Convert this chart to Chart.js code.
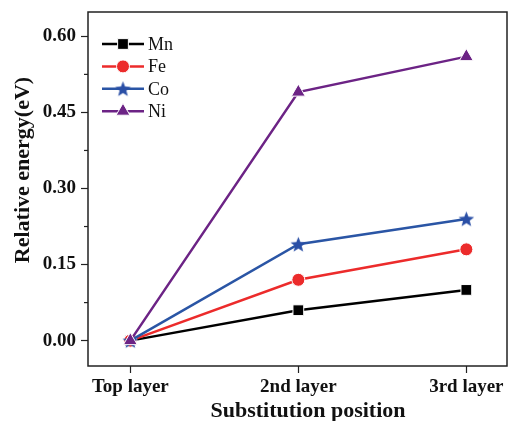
<!DOCTYPE html>
<html>
<head>
<meta charset="utf-8">
<script src="https://cdn.jsdelivr.net/npm/chart.js@4"></script>
<style>
  body { margin: 0; background: #fff; }
  #wrap { width: 510px; height: 421px; }
</style>
</head>
<body>
<div id="wrap"><canvas id="grafico" width="510" height="421"></canvas></div>
<script>
const CATEGORIAS = ['Top layer', '2nd layer', '3rd layer'];
const VALORES_MN = [0, 0.06, 0.10];
const VALORES_FE = [0, 0.12, 0.18];
const VALORES_CO = [0, 0.19, 0.24];
const VALORES_NI = [0, 0.49, 0.56];
const TICKS_Y = [0, 0.15, 0.30, 0.45, 0.60];
const TICKS_Y_MENORES = [0.075, 0.225, 0.375, 0.525];

const FUENTE = "'Liberation Serif', 'Times New Roman', serif";
const COLOR_MARCO = '#222';

// Estrella rellena (Chart.js solo trae la estrella de trazos)
function crearEstrella(color) {
  const c = document.createElement('canvas');
  c.width = 19; c.height = 19;
  const ctx = c.getContext('2d');
  ctx.beginPath();
  for (let i = 0; i < 10; i++) {
    const r = i % 2 === 0 ? 8.2 : 3.5;
    const a = -Math.PI / 2 + i * Math.PI / 5;
    ctx.lineTo(9.5 + r * Math.cos(a), 10.2 + r * Math.sin(a));
  }
  ctx.closePath();
  ctx.fillStyle = color;
  ctx.fill();
  return c;
}

const ESTILOS = {
  Mn: { color: '#000000', punto: 'rect', radio: 7.6 },
  Fe: { color: '#ec2b2b', punto: 'circle', radio: 6.5 },
  Co: { color: '#2a55a5', punto: crearEstrella('#2a4fa6'), radio: 8 },
  Ni: { color: '#6c2385', punto: 'triangle', radio: 8 }
};

function serie(nombre, valores, orden) {
  const e = ESTILOS[nombre];
  return {
    label: nombre,
    data: valores.map((v, i) => ({ x: i, y: v })),
    borderColor: e.color,
    backgroundColor: e.color,
    pointStyle: e.punto,
    pointRadius: e.radio,
    pointHoverRadius: e.radio,
    pointBorderColor: '#fff',
    pointBorderWidth: 1,
    borderWidth: 2.5,
    tension: 0,
    order: orden
  };
}

// sin relleno automatico de las escalas
function sinRelleno(s) {
  s.paddingLeft = 0; s.paddingRight = 0; s.paddingTop = 0; s.paddingBottom = 0;
}

// Marco completo, ticks menores, leyenda y titulos de ejes
const decoracion = {
  id: 'decoracion',
  afterDraw(chart) {
    const { ctx, chartArea: a, scales } = chart;
    ctx.save();
    ctx.strokeStyle = COLOR_MARCO;
    ctx.lineWidth = 1.5;
    ctx.strokeRect(a.left, a.top, a.right - a.left, a.bottom - a.top);

    ctx.lineWidth = 1.2;
    TICKS_Y_MENORES.forEach(v => {
      const y = scales.y.getPixelForValue(v);
      ctx.beginPath();
      ctx.moveTo(a.left - 4, y);
      ctx.lineTo(a.left, y);
      ctx.stroke();
    });

    // leyenda
    chart.data.datasets.forEach((ds, i) => {
      const y = 44 + i * 22.4;
      ctx.strokeStyle = ds.borderColor;
      ctx.lineWidth = 2.5;
      ctx.beginPath();
      ctx.moveTo(102, y);
      ctx.lineTo(144, y);
      ctx.stroke();
      ctx.fillStyle = ds.backgroundColor;
      ctx.strokeStyle = '#fff';
      ctx.lineWidth = 1;
      Chart.helpers.drawPoint(ctx, { pointStyle: ds.pointStyle, radius: ds.pointRadius, borderWidth: 1 }, 123, y);
      ctx.fillStyle = '#111';
      ctx.font = '18px ' + FUENTE;
      ctx.textBaseline = 'middle';
      ctx.textAlign = 'left';
      ctx.fillText(ds.label, 148, y + 1);
    });

    ctx.fillStyle = '#111';
    ctx.font = 'bold 22px ' + FUENTE;
    ctx.textAlign = 'center';
    ctx.textBaseline = 'middle';
    ctx.fillText('Substitution position', 308, 411);
    ctx.translate(23, 170);
    ctx.rotate(-Math.PI / 2);
    ctx.fillText('Relative energy(eV)', 0, 0);
    ctx.restore();
  }
};

new Chart(document.getElementById('grafico').getContext('2d'), {
  type: 'line',
  data: {
    datasets: [
      serie('Mn', VALORES_MN, 3),
      serie('Fe', VALORES_FE, 2),
      serie('Co', VALORES_CO, 1),
      serie('Ni', VALORES_NI, 0)
    ]
  },
  options: {
    responsive: false,
    animation: false,
    layout: { autoPadding: false, padding: { left: 0, top: 12, right: 3, bottom: 0 } },
    plugins: { legend: { display: false }, tooltip: { enabled: false } },
    scales: {
      x: {
        type: 'linear',
        min: -0.252,
        max: 2.242,
        afterBuildTicks: s => { s.ticks = CATEGORIAS.map((_, i) => ({ value: i })); },
        afterFit: s => { s.height = 55; sinRelleno(s); },
        border: { display: false },
        grid: { drawOnChartArea: false, drawTicks: true, tickLength: 7, tickWidth: 1.2, tickColor: COLOR_MARCO },
        ticks: {
          callback: v => CATEGORIAS[v],
          color: '#111',
          padding: 3,
          maxRotation: 0,
          font: { family: FUENTE, size: 19, weight: 'bold' }
        }
      },
      y: {
        min: -0.05,
        max: 0.648,
        afterBuildTicks: s => { s.ticks = TICKS_Y.map(v => ({ value: v })); },
        afterFit: s => { s.width = 88; sinRelleno(s); },
        border: { display: false },
        grid: { drawOnChartArea: false, drawTicks: true, tickLength: 7, tickWidth: 1.2, tickColor: COLOR_MARCO },
        ticks: {
          callback: v => v.toFixed(2),
          color: '#111',
          padding: 5,
          font: { family: FUENTE, size: 19, weight: 'bold' }
        }
      }
    }
  },
  plugins: [decoracion]
});
</script>
</body>
</html>
